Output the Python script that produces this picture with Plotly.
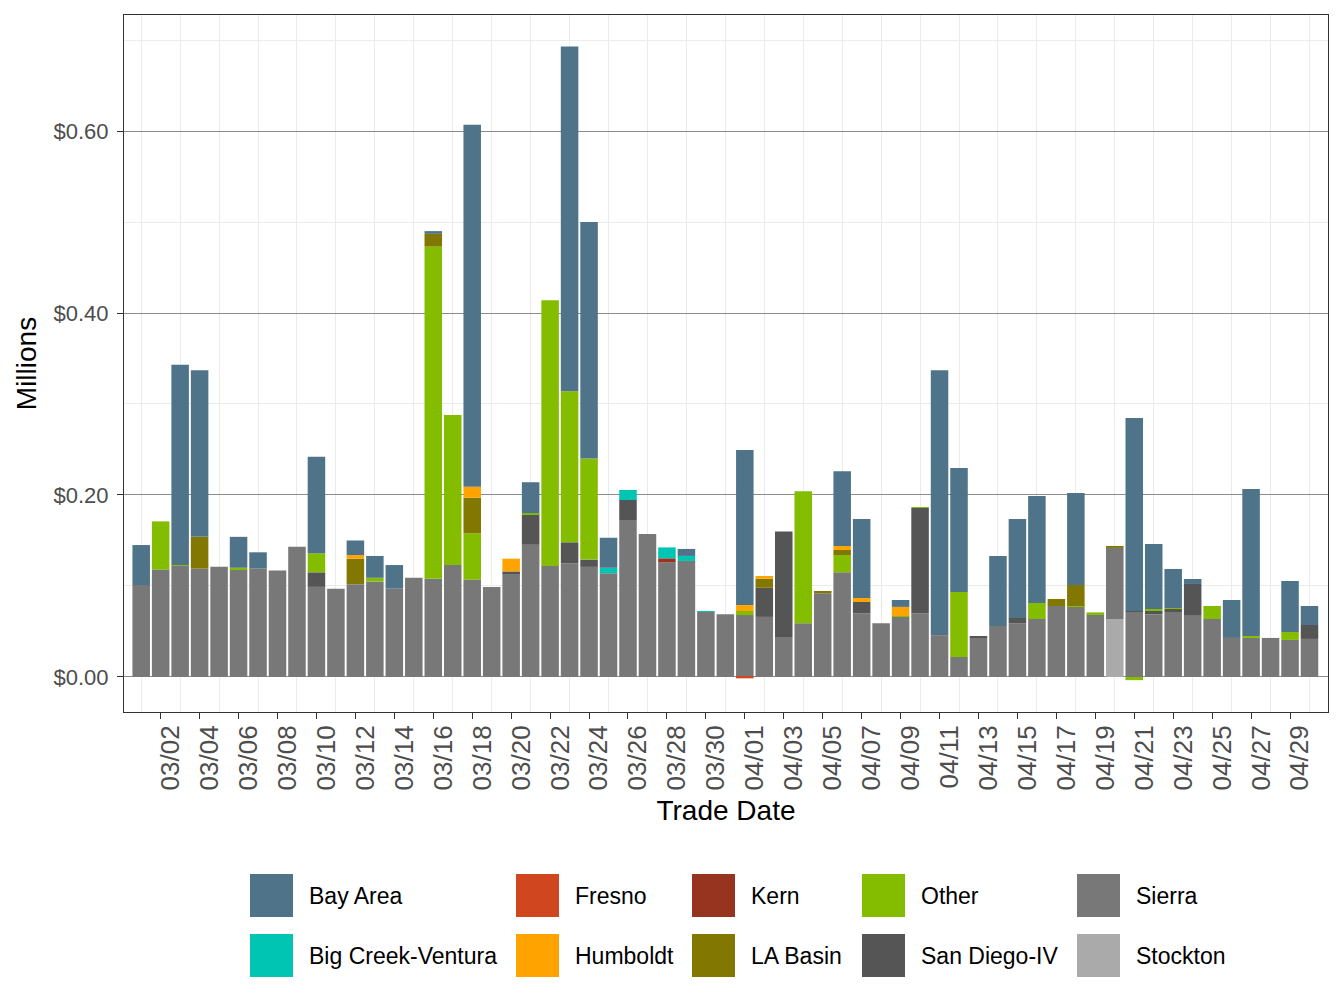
import plotly.graph_objects as go

# ---------------- data ----------------
dates = [f"2023-03-{d:02d}" for d in range(1, 32)] + [f"2023-04-{d:02d}" for d in range(1, 31)]

sierra = [0.101, 0.118, 0.122, 0.119, 0.121, 0.118, 0.119, 0.117, 0.143, 0.099,
          0.097, 0.102, 0.105, 0.097, 0.109, 0.108, 0.123, 0.107, 0.099, 0.114,
          0.146, 0.122, 0.125, 0.121, 0.114, 0.1725, 0.157, 0.126, 0.1275, 0.0714, 0.069,
          0.068, 0.066, 0.044, 0.059, 0.092, 0.115, 0.070, 0.059, 0.066, 0.070,
          0.046, 0.022, 0.043, 0.056, 0.059, 0.0637, 0.078, 0.0769, 0.069, 0.0781,
          0.0714, 0.069, 0.0714, 0.068, 0.0637, 0.0429, 0.0429, 0.0429, 0.0407, 0.0418]

bay_area = [0.044, 0, 0.220, 0.183, 0, 0.034, 0.018, 0, 0, 0.106,
            0, 0.016, 0.024, 0.026, 0, 0.003, 0, 0.398, 0, 0,
            0.034, 0, 0.379, 0.260, 0.033, 0, 0, 0, 0.0077, 0, 0,
            0.1705, 0, 0, 0, 0, 0.082, 0.0868, 0, 0.0076, 0,
            0.291, 0.1363, 0, 0.077, 0.1088, 0.1176, 0, 0.1011, 0, 0,
            0.2121, 0.0715, 0.0429, 0.0055, 0, 0.0417, 0.1615, 0, 0.056, 0.0209]

other = [0, 0.053, 0.001, 0, 0, 0.002, 0, 0, 0, 0.021,
         0, 0, 0.004, 0, 0, 0.365, 0.165, 0.051, 0, 0,
         0.001, 0.292, 0.166, 0.111, 0, 0, 0, 0, 0, 0, 0,
         0.0045, 0, 0, 0.145, 0, 0.019, 0, 0, 0.001, 0.001,
         0, 0.0714, 0, 0, 0, 0.0176, 0, 0.0011, 0.002, 0,
         -0.0035, 0.0022, 0.0011, 0, 0.0143, 0, 0.0022, 0, 0.0088, 0]

san_diego = [0, 0, 0, 0, 0, 0, 0, 0, 0, 0.016,
             0, 0, 0, 0, 0, 0, 0, 0, 0, 0.002,
             0.033, 0, 0.023, 0.008, 0, 0.022, 0, 0, 0, 0, 0,
             0, 0.032, 0.116, 0, 0, 0, 0.0124, 0, 0, 0.1157,
             0, 0, 0.001, 0, 0.0058, 0, 0, 0, 0, 0,
             0.001, 0.0035, 0.0033, 0.0342, 0, 0, 0, 0, 0, 0.0153]

la_basin = [0, 0, 0, 0.035, 0, 0, 0, 0, 0, 0,
            0, 0.028, 0, 0, 0, 0.014, 0, 0.039, 0, 0,
            0, 0, 0, 0, 0, 0, 0, 0, 0, 0, 0,
            0, 0.010, 0, 0, 0.0025, 0.0056, 0, 0, 0, 0,
            0, 0, 0, 0, 0, 0, 0.0077, 0.0231, 0, 0.0022,
            0, 0, 0, 0, 0, 0, 0, 0, 0, 0]

humboldt = [0, 0, 0, 0, 0, 0, 0, 0, 0, 0,
            0, 0.004, 0, 0, 0, 0, 0, 0.012, 0, 0.014,
            0, 0, 0, 0, 0, 0, 0, 0, 0, 0, 0,
            0.0065, 0.003, 0, 0, 0, 0.0044, 0.0044, 0, 0.010, 0,
            0, 0, 0, 0, 0, 0, 0, 0, 0, 0,
            0, 0, 0, 0, 0, 0, 0, 0, 0, 0]

big_creek = [0, 0, 0, 0, 0, 0, 0, 0, 0, 0,
             0, 0, 0, 0, 0, 0, 0, 0, 0, 0,
             0, 0, 0, 0, 0.006, 0.011, 0, 0.012, 0.0055, 0.001, 0,
             0, 0, 0, 0, 0, 0, 0, 0, 0, 0,
             0, 0, 0, 0, 0, 0, 0, 0, 0, 0,
             0, 0, 0, 0, 0, 0, 0, 0, 0, 0]

kern = [0] * 27 + [0.0044] + [0] * 33
fresno = [0] * 31 + [-0.0015] + [0] * 29
stockton = [0] * 50 + [0.0637] + [0] * 10

# stacking order: bottom -> top
series = [
    ("Stockton", stockton, "#aaaaaa"),
    ("Sierra", sierra, "#787878"),
    ("San Diego-IV", san_diego, "#555555"),
    ("Other", other, "#84bd00"),
    ("LA Basin", la_basin, "#827700"),
    ("Kern", kern, "#96341f"),
    ("Humboldt", humboldt, "#ffa300"),
    ("Fresno", fresno, "#d0461f"),
    ("Big Creek-Ventura", big_creek, "#00c5b2"),
    ("Bay Area", bay_area, "#4f7489"),
]
colors = {n: c for n, _, c in series}

legend_cols = [["Bay Area", "Big Creek-Ventura"], ["Fresno", "Humboldt"],
               ["Kern", "LA Basin"], ["Other", "San Diego-IV"], ["Sierra", "Stockton"]]

y_tickvals = [0, 0.2, 0.4, 0.6]
y_ticktext = ["$0.00", "$0.20", "$0.40", "$0.60"]

FONT = "Liberation Sans, Arial, Helvetica, sans-serif"
DAY = 86400000

fig = go.Figure()
for name, vals, col in series:
    fig.add_trace(go.Bar(x=dates, y=vals, name=name, marker=dict(color=col, line=dict(width=0)),
                         width=0.9 * DAY, showlegend=False))

# plot area in pixels
L, R, T, B = 124, 1328, 15, 712
W, H = 1344, 1008

def px(x):
    return (x - L) / (R - L)

def py(y):
    return (B - y) / (B - T)

shapes = []
annotations = []
col_swatch_x = [250, 516, 692, 862, 1077]
row_y = [874, 934]
sw = 43
for ci, names in enumerate(legend_cols):
    for ri, nm in enumerate(names):
        x0 = col_swatch_x[ci]
        y0 = row_y[ri]
        shapes.append(dict(type="rect", xref="paper", yref="paper",
                           x0=px(x0), x1=px(x0 + sw), y0=py(y0 + sw), y1=py(y0),
                           fillcolor=colors[nm], line=dict(width=0), layer="above"))
        annotations.append(dict(text=nm, xref="paper", yref="paper", x=px(x0 + sw + 14),
                                y=py(y0 + sw / 2), xanchor="left", yanchor="middle",
                                showarrow=False, font=dict(size=23, color="#000000", family=FONT)))

minor_x = [d for i, d in enumerate(dates) if i % 2 == 0]

fig.update_layout(
    width=W, height=H,
    barmode="relative",
    paper_bgcolor="white", plot_bgcolor="white",
    margin=dict(l=L, r=W - R, t=T, b=H - B, pad=0),
    font=dict(family=FONT),
    shapes=shapes, annotations=annotations,
    xaxis=dict(
        type="date",
        range=["2023-02-28 02:48", "2023-04-30 22:48"],
        tick0="2023-03-02", dtick=2 * DAY, tickformat="%m/%d", tickangle=-90,
        showgrid=False,
        minor=dict(tickvals=minor_x, showgrid=True, gridcolor="#ebebeb", gridwidth=1, ticklen=0),
        ticks="outside", ticklen=6, tickcolor="#333333", tickwidth=1.2,
        tickfont=dict(size=26, color="#4d4d4d", family=FONT),
        ticklabelshift=10, ticklabelstandoff=-4,
        showline=True, mirror=True, linecolor="#333333", linewidth=1,
        zeroline=False,
        title=dict(text="Trade Date", font=dict(size=28, color="#000000", family=FONT), standoff=10),
    ),
    yaxis=dict(
        range=[-0.0385, 0.7275],
        tickvals=y_tickvals, ticktext=y_ticktext,
        showgrid=True, gridcolor="#8c8c8c", gridwidth=1,
        minor=dict(tickvals=[0.1, 0.3, 0.5, 0.7], showgrid=True, gridcolor="#ebebeb", gridwidth=1, ticklen=0),
        zeroline=True, zerolinecolor="#8c8c8c", zerolinewidth=1,
        ticks="outside", ticklen=6, tickcolor="#333333", tickwidth=1.2,
        tickfont=dict(size=22, color="#4d4d4d", family=FONT),
        ticklabelstandoff=4,
        showline=True, mirror=True, linecolor="#333333", linewidth=1,
        title=dict(text="Millions", font=dict(size=28, color="#000000", family=FONT), standoff=8),
    ),
)

fig.write_html("out.html")
